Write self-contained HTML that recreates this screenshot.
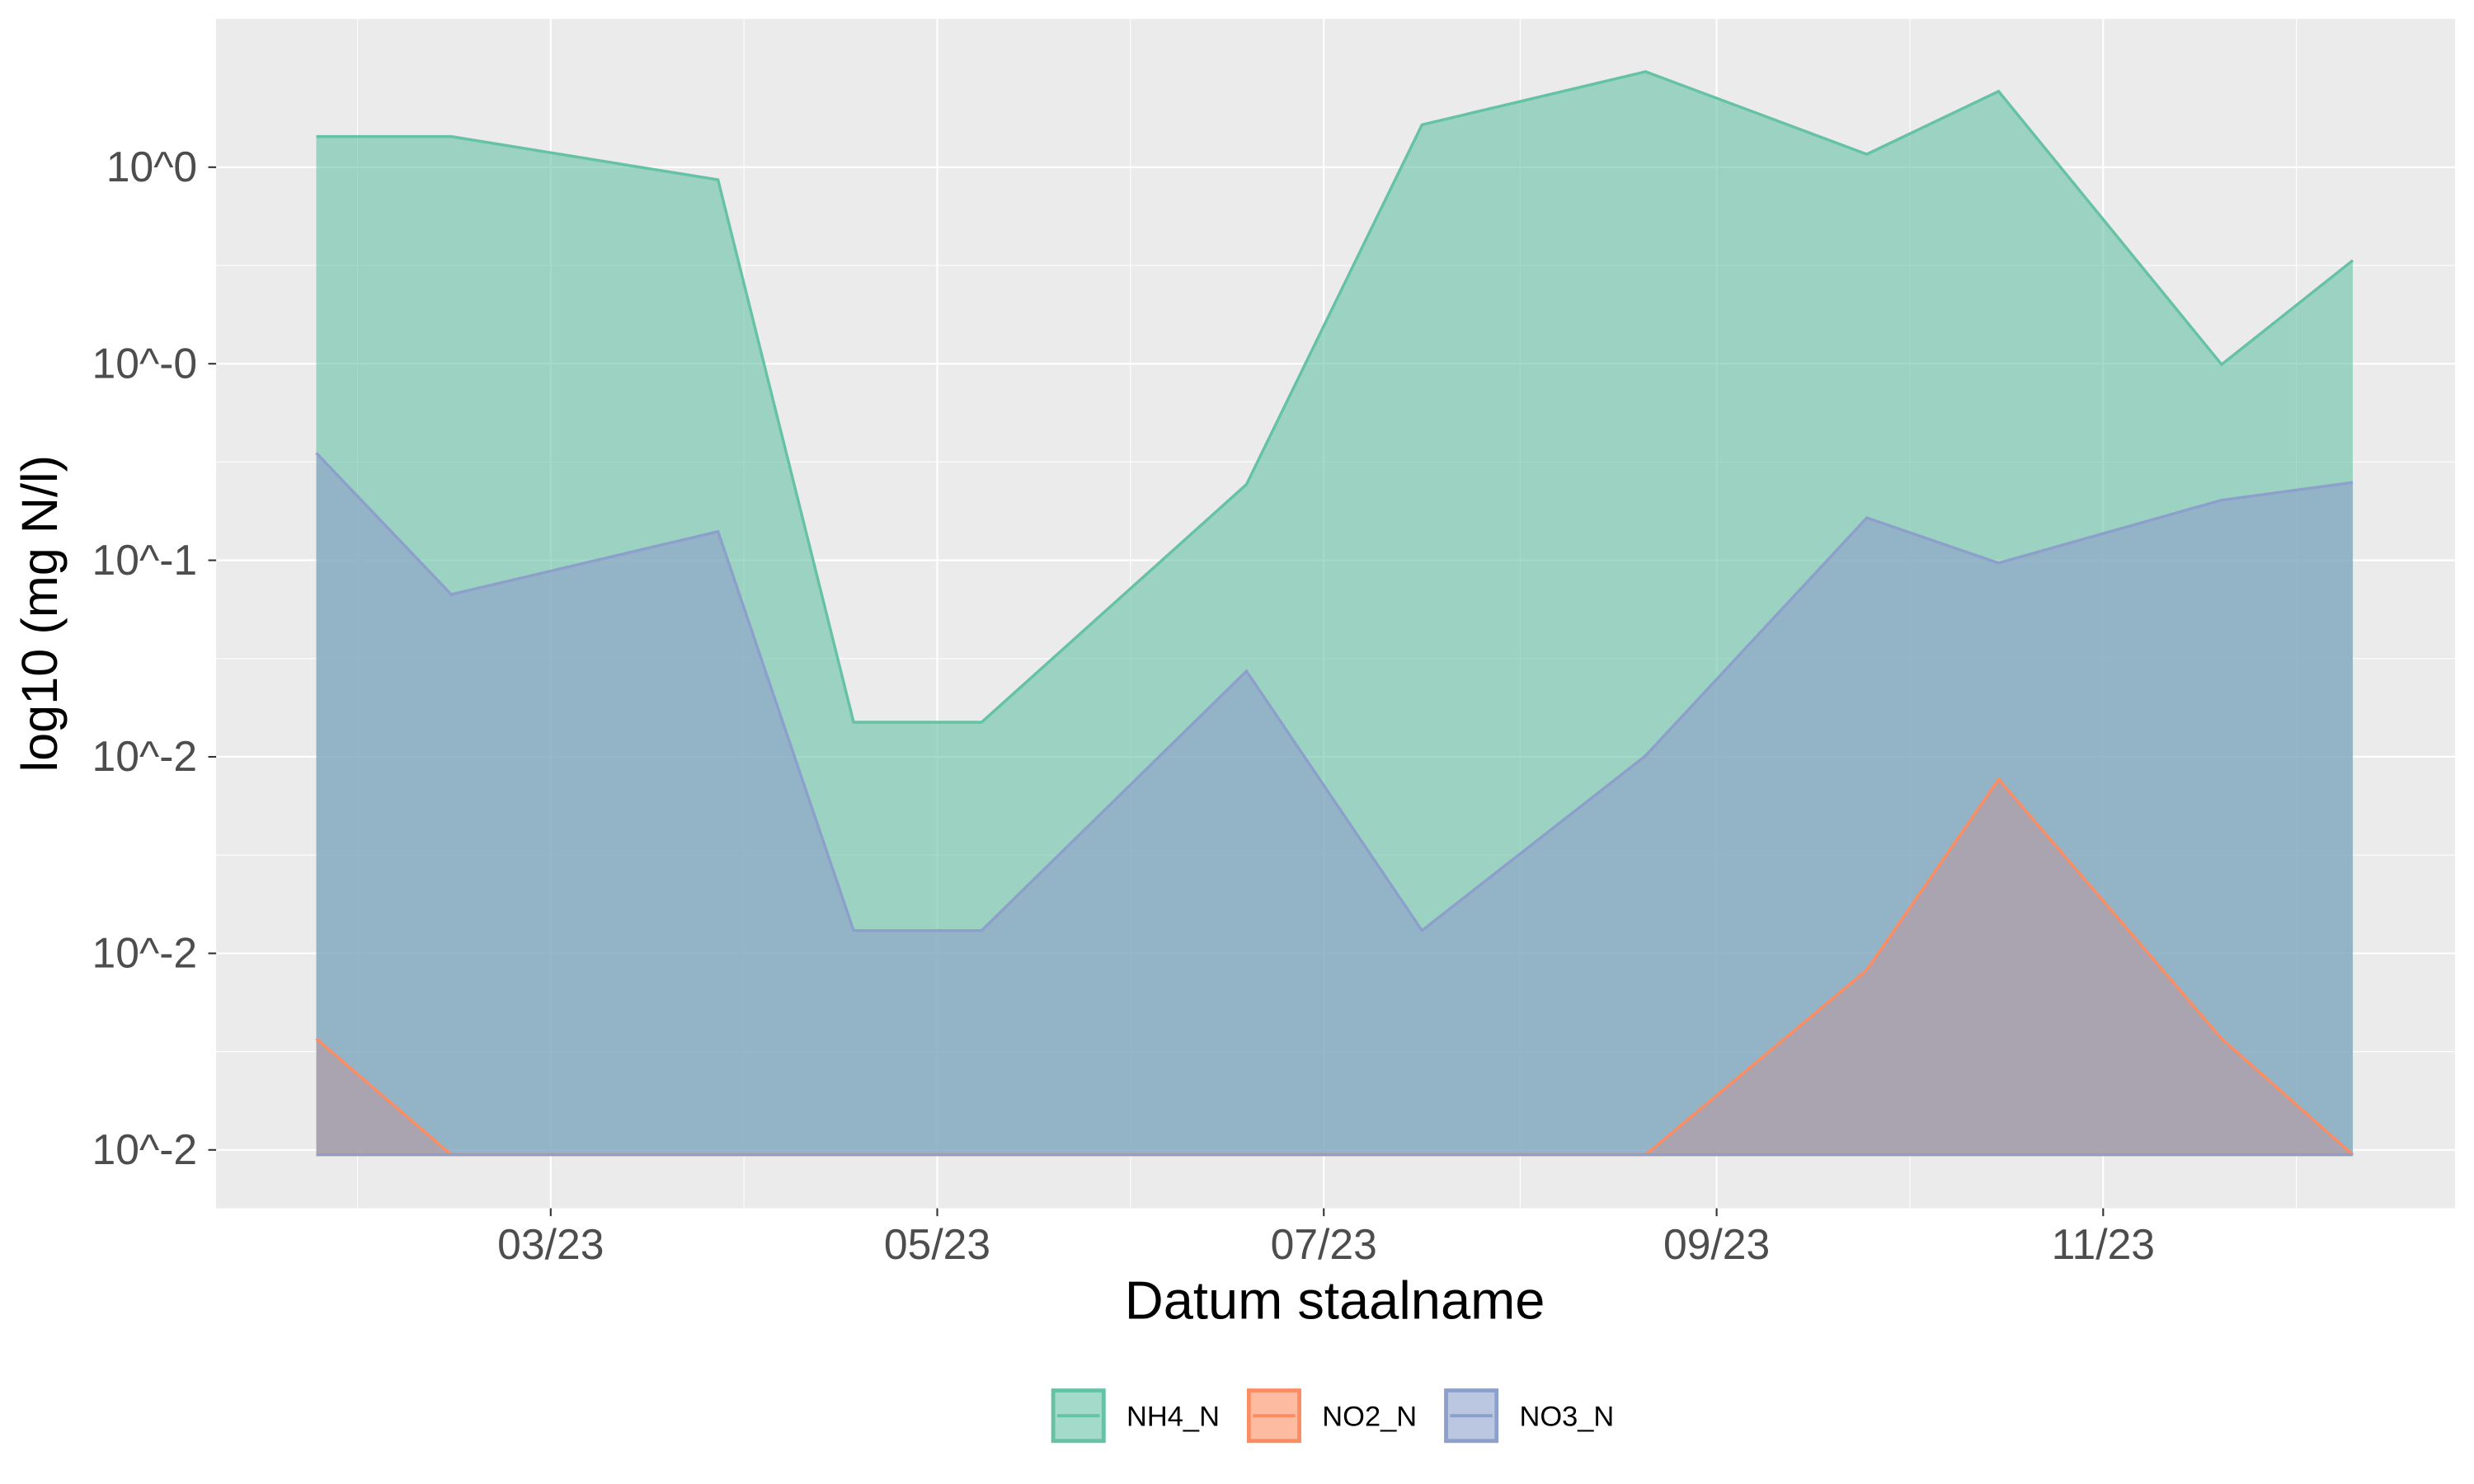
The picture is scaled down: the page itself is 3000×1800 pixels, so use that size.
<!DOCTYPE html>
<html><head><meta charset="utf-8"><style>
html,body{margin:0;padding:0;background:#fff;}
svg{display:block;font-family:"Liberation Sans",Arial,sans-serif;}
</style></head><body>
<svg id="chart" width="3000" height="1800" viewBox="0 0 1568 940.8" xmlns="http://www.w3.org/2000/svg">
<rect x="137" y="12" width="1419" height="754" fill="#ebebeb"/>
<g id="grid"></g>
<g id="areas"></g>
<g id="lines"></g>
<g id="axes"></g>
<text x="846" y="836" font-size="34" text-anchor="middle" fill="#000">Datum staalname</text>
<text transform="translate(36,389) rotate(-90)" font-size="32" text-anchor="middle" fill="#000">log10 (mg N/l)</text>
<g id="legend"></g>
</svg>
<script>
const dates = [22,43.3,85.4,106.8,127,168.8,196.5,231.8,266.7,287.5,322.7,343.4];
const baseline = -0.024;
const no2Values = [0.59,0,0,0,0,0,0,0,0.94,1.91,0.59,0];
const no3Values = [2.98,2.85,3.17,1.14,1.14,2.46,1.14,2.03,2.30,1.10,2.74,3.42];
const nh4Values = [1.61,2.33,1.79,1.06,1.06,0.95,4.10,3.48,1.85,2.40,0.69,1.13];
const yTickValues = [0,1,2,3,4,5];
const yTickLabels = ["10^-2","10^-2","10^-2","10^-1","10^-0","10^0"];
const xTickDays = [59,120,181,243,304];
const xTickLabels = ["03/23","05/23","07/23","09/23","11/23"];

const NS="http://www.w3.org/2000/svg";
const xs = d => 112.1 + d*4.016;
const ys = v => 729 - v*124.6;
function mk(tag, attrs, parent){const e=document.createElementNS(NS,tag);for(const k in attrs)e.setAttribute(k,attrs[k]);parent.appendChild(e);return e;}
const grid=document.getElementById('grid'), areas=document.getElementById('areas'), lines=document.getElementById('lines'), axes=document.getElementById('axes'), legend=document.getElementById('legend');

for(let i=0;i<yTickValues.length;i++){
  const y=ys(yTickValues[i]);
  const l=mk('line',{x1:137,x2:1556,y1:y,y2:y,stroke:'#fff','stroke-width':1.1},grid);
  
  
  if(i<yTickValues.length-1){const ym=ys((yTickValues[i]+yTickValues[i+1])/2);
    const m=mk('line',{x1:137,x2:1556,y1:ym,y2:ym,stroke:'#fff','stroke-width':0.55},grid);
    
    }
  const t=mk('text',{x:125,y:y+9,'font-size':27,'text-anchor':'end',fill:'#4d4d4d'},axes);t.textContent=yTickLabels[i];
  
  
  mk('line',{x1:132,x2:137,y1:y,y2:y,stroke:'#333','stroke-width':1.1},axes);
}
const step=xTickDays[1]-xTickDays[0];
const minors=[xTickDays[0]-step/2];
for(let i=0;i<xTickDays.length;i++){minors.push(i<xTickDays.length-1?(xTickDays[i]+xTickDays[i+1])/2:xTickDays[i]+step/2);}
minors.forEach(d=>{const x=xs(d);
  const m=mk('line',{x1:x,x2:x,y1:12,y2:766,stroke:'#fff','stroke-width':0.55},grid);
  
  });
xTickDays.forEach((d,i)=>{const x=xs(d);
  const l=mk('line',{x1:x,x2:x,y1:12,y2:766,stroke:'#fff','stroke-width':1.1},grid);
  
  
  mk('line',{x1:x,x2:x,y1:766,y2:771,stroke:'#333','stroke-width':1.1},axes);
  const t=mk('text',{x:x,y:798,'font-size':27,'text-anchor':'middle',fill:'#4d4d4d'},axes);t.textContent=xTickLabels[i];
  
  });

const no2Top=no2Values.map(v=>baseline+v);
const no3Top=no3Values.map((v,i)=>no2Top[i]+v);
const nh4Top=nh4Values.map((v,i)=>no3Top[i]+v);
function drawArea(top,color,name){
  const pts=top.map((v,i)=>xs(dates[i])+','+ys(v));
  const poly=pts.join(' ')+' '+xs(dates[dates.length-1])+','+ys(baseline)+' '+xs(dates[0])+','+ys(baseline);
  const p=mk('polygon',{points:poly,fill:color,'fill-opacity':0.6,stroke:'none'},areas);
  
  
  const l=mk('polyline',{points:pts.join(' '),fill:'none',stroke:color,'stroke-width':1.8},lines);
  
  
  mk('line',{x1:xs(dates[0]),x2:xs(dates[dates.length-1]),y1:ys(baseline),y2:ys(baseline),stroke:color,'stroke-width':1.8},lines);
}
drawArea(nh4Top,'#66c2a5','nh4');
drawArea(no2Top,'#fc8d62','no2');
drawArea(no3Top,'#8da0cb','no3');

[['NH4_N','#66c2a5',666],['NO2_N','#fc8d62',790],['NO3_N','#8da0cb',915]].forEach(([lab,c,x])=>{
  const g=mk('g',{},legend);
  
  
  mk('rect',{x:x,y:880,width:35,height:35,fill:'#fff'},g);
  mk('rect',{x:x+1.5,y:881.5,width:32,height:32,fill:c,'fill-opacity':0.6,stroke:c,'stroke-width':2.5},g);
  mk('line',{x1:x+4,x2:x+31,y1:897.5,y2:897.5,stroke:c,'stroke-width':2},g);
  const t=mk('text',{x:x+48,y:904,'font-size':18,fill:'#000'},g);t.textContent=lab;
});
</script>
</body></html>
